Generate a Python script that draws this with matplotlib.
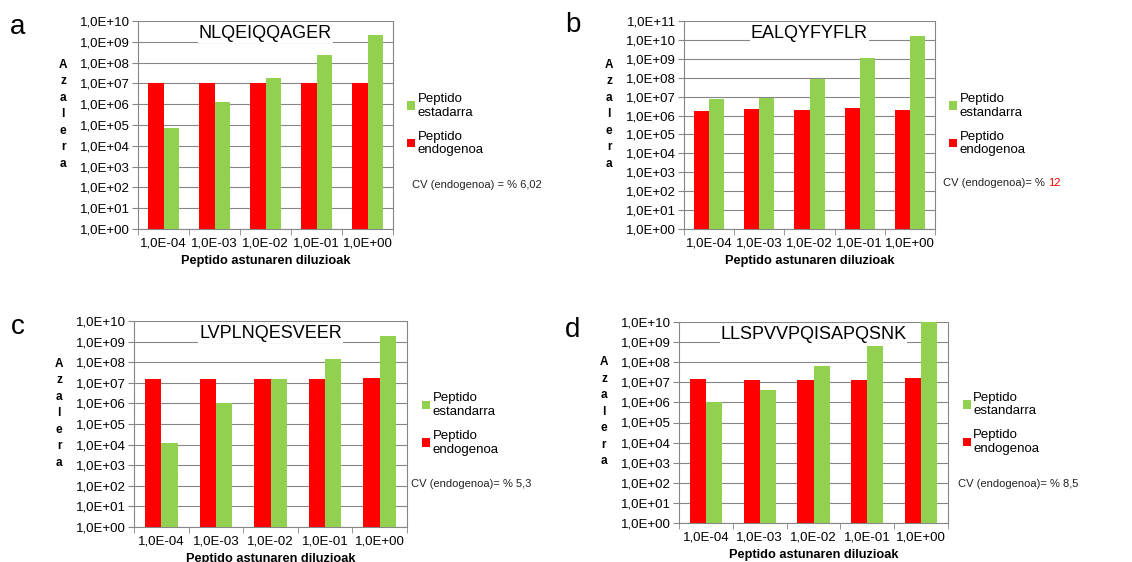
import numpy as np
import matplotlib
matplotlib.use("Agg")
import matplotlib.pyplot as plt
from matplotlib.patches import Patch
from matplotlib.ticker import FuncFormatter

plt.rcParams['font.family'] = ['Liberation Sans', 'DejaVu Sans']

# dilutions (x categories)
dilutions = ['1,0E-04', '1,0E-03', '1,0E-02', '1,0E-01', '1,0E+00']

# a - NLQEIQQAGER
a_endo = [1.0e7, 1.0e7, 1.05e7, 1.05e7, 1.0e7]
a_std = [7.0e4, 1.3e6, 1.9e7, 2.2e8, 2.05e9]
# b - EALQYFYFLR
b_endo = [1.7e6, 2.2e6, 1.95e6, 2.5e6, 1.95e6]
b_std = [7.1e6, 8.1e6, 8.1e7, 1.17e9, 1.55e10]
# c - LVPLNQESVEER
c_endo = [1.6e7, 1.6e7, 1.6e7, 1.6e7, 1.8e7]
c_std = [1.2e4, 1.05e6, 1.6e7, 1.5e8, 1.95e9]
# d - LLSPVVPQISAPQSNK
d_endo = [1.45e7, 1.25e7, 1.25e7, 1.25e7, 1.57e7]
d_std = [1.0e6, 4.3e6, 6.7e7, 6.6e8, 1.0e10]

RED = '#ff0000'
GREEN = '#92d050'
GRAY = '#868686'

W, H = 1132, 562
fig = plt.figure(figsize=(W / 100, H / 100), dpi=100)


def px_axes(left, right, top, bottom):
    return fig.add_axes([left / W, 1 - bottom / H, (right - left) / W, (bottom - top) / H])


def panel(box, letter, letter_xy, title, endo, std, ymax, std_name, cv_xy, cv_pre, cv_val, cv_red):
    ax = px_axes(*box)
    x = np.arange(len(dilutions))
    w = 0.3
    ax.bar(x - w / 2, endo, width=w, color=RED, zorder=3)
    ax.bar(x + w / 2, std, width=w, color=GREEN, zorder=3)
    ax.set_yscale('log')
    ax.set_ylim(1, 10 ** ymax)
    ax.set_xlim(-0.5, len(dilutions) - 0.5)
    ax.set_yticks([10.0 ** k for k in range(ymax + 1)])
    ax.yaxis.set_minor_locator(matplotlib.ticker.NullLocator())
    ax.yaxis.set_major_formatter(FuncFormatter(lambda v, p: '1,0E%+03d' % int(round(np.log10(v)))))
    ax.set_xticks(x)
    ax.set_xticklabels(dilutions)
    ax.set_xticks(np.arange(len(dilutions) + 1) - 0.5, minor=True)
    ax.tick_params(axis='x', which='major', length=0, pad=6, labelsize=9.5)
    ax.tick_params(axis='x', which='minor', length=4, color=GRAY)
    ax.tick_params(axis='y', length=4, color=GRAY, labelsize=9.5, pad=2)
    ax.grid(axis='y', color=GRAY, linewidth=0.8, zorder=0)
    ax.spines['top'].set_visible(False)
    for s in ['left', 'bottom', 'right']:
        ax.spines[s].set_color(GRAY)
        ax.spines[s].set_linewidth(0.8)
    ax.set_xlabel('Peptido astunaren diluzioak', fontsize=9.2, fontweight='bold', labelpad=4)

    ax.text(0.5, 0.94, title, transform=ax.transAxes, ha='center', va='center', fontsize=13,
            bbox=dict(facecolor='white', edgecolor='none', pad=0.5), zorder=5)

    # stacked y label
    lx = (box[0] - 75) / W
    fig.text(lx, 1 - ((box[2] + box[3]) / 2 - 5) / H + 0.01, '\n'.join('Azalera'), ha='center', va='center',
             fontsize=8.5, fontweight='bold', linespacing=1.5)

    fig.text(letter_xy[0] / W, 1 - letter_xy[1] / H, letter, ha='center', va='center', fontsize=20)

    handles = [Patch(facecolor=GREEN), Patch(facecolor=RED)]
    ax.legend(handles, ['Peptido\n' + std_name, 'Peptido\nendogenoa'], loc='upper left',
              bbox_to_anchor=(1.035, 0.68), frameon=False, fontsize=9.5, handlelength=0.6,
              handleheight=0.6, handletextpad=0.2, labelspacing=0.9, borderaxespad=0)

    ybase = 1 - (cv_xy[1] + 4) / H
    if cv_red:
        t = fig.text(cv_xy[0] / W, ybase, cv_pre + ' ', ha='left', va='baseline', fontsize=8, color='#222222')
        fig.canvas.draw()
        bb = t.get_window_extent()
        fig.text(bb.x1 / W, ybase, cv_val, ha='left', va='baseline', fontsize=8, color=RED)
    else:
        fig.text(cv_xy[0] / W, ybase, cv_pre + ' ' + cv_val, ha='left', va='baseline', fontsize=8,
                 color='#222222')
    return ax


panel((138, 393, 21, 229), 'a', (18, 27), 'NLQEIQQAGER', a_endo, a_std, 10, 'estadarra',
      (412, 184), 'CV (endogenoa) = %', '6,02', False)
panel((684, 935, 21, 229), 'b', (573, 25), 'EALQYFYFLR', b_endo, b_std, 11, 'estandarra',
      (943, 182), 'CV (endogenoa)= %', '12', True)
panel((134, 407, 321, 527), 'c', (18, 327), 'LVPLNQESVEER', c_endo, c_std, 10, 'estandarra',
      (411, 483), 'CV (endogenoa)= %', '5,3', False)
panel((679, 948, 322, 523), 'd', (573, 330), 'LLSPVVPQISAPQSNK', d_endo, d_std, 10, 'estandarra',
      (958, 483), 'CV (endogenoa)= %', '8,5', False)

fig.savefig('out.png', dpi=100)
